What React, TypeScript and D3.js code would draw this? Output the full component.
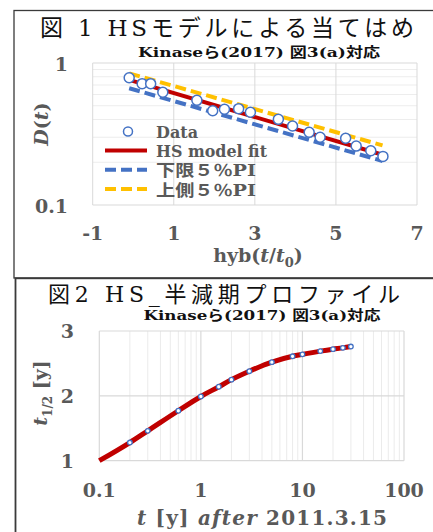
import React from 'react';
import * as d3 from 'd3';

// Fig.1 data: hyb(t/t0) vs D(t)
const hybX = [-0.1, 0.22, 0.43, 0.73, 1.57, 1.96, 2.25, 2.6, 2.89, 3.58, 3.93, 4.34, 4.61, 5.24, 5.5, 5.86, 6.16];
const dObs = [0.788, 0.715, 0.715, 0.622, 0.546, 0.461, 0.472, 0.477, 0.45, 0.401, 0.36, 0.325, 0.3, 0.295, 0.26, 0.241, 0.22];
const bandX = [-0.1, 6.15];
const fitD = [0.76, 0.226];
const lowerD = [0.664, 0.204];
const upperD = [0.846, 0.263];
const xTicksTop = [-1, 1, 3, 5, 7];
const yTicksTop = [0.1, 1];

// Fig.2 data: t vs half-life
const tObs = [0.2, 0.3, 0.6, 1, 1.5, 2, 3, 5, 8, 10, 15, 20, 25, 30];
const halfObs = [1.28, 1.46, 1.77, 1.99, 2.14, 2.25, 2.38, 2.52, 2.61, 2.64, 2.69, 2.72, 2.74, 2.76];
const fitT = [0.1, 0.2, 0.3, 0.6, 1, 1.5, 2, 3, 5, 8, 10, 15, 20, 25, 30];
const fitHalf = [1.0, 1.28, 1.46, 1.77, 1.99, 2.14, 2.25, 2.38, 2.52, 2.61, 2.64, 2.69, 2.72, 2.74, 2.76];
const xTicksBottom = [0.1, 1, 10, 100];
const yTicksBottom = [1, 2, 3];

const NUM = "'DejaVu Serif', serif";
const JP = "'DejaVu Serif', 'Noto Sans CJK JP', sans-serif";
const GRAY = '#595959';
const RED = '#C00000';
const BLUE = '#4472C4';
const GOLD = '#FFC000';

const App: React.FC = () => {
  // top chart scales
  const x1 = d3.scaleLinear().domain([-1, 7]).range([92.7, 417]);
  const y1 = d3.scaleLog().domain([0.1, 1]).range([205, 63]);
  const minorTop = d3.range(2, 10).map(d => d / 10);
  const line1 = d3.line<[number, number]>().x(d => x1(d[0])).y(d => y1(d[1]));

  // bottom chart scales
  const x2 = d3.scaleLog().domain([0.1, 100]).range([99.3, 404]);
  const y2 = d3.scaleLinear().domain([1, 3]).range([460.7, 331]);
  const minorBottom = [0.1, 1, 10].flatMap(dec => d3.range(2, 10).map(k => k * dec));
  const line2 = d3.line<[number, number]>()
    .x(d => x2(d[0]))
    .y(d => y2(d[1]))
    .curve(d3.curveMonotoneX);

  const legend = [
    { label: 'HS model fit', color: RED, dash: undefined, len: 111 },
    { label: '下限５％PI', color: BLUE, dash: '11,5', len: 100 },
    { label: '上側５％PI', color: GOLD, dash: '11,5', len: 100 },
  ];

  return (
    <div style={{ position: 'absolute', left: 0, top: 0 }}>
      <svg width={433} height={532} viewBox="0 0 433 532" style={{ display: 'block', background: '#fff' }}>
        {/* frames */}
        <rect x={14} y={10.5} width={440} height={267.5} fill="none" stroke="#3a3a3a" strokeWidth={1.3} />
        <rect x={15.5} y={278.3} width={440} height={300} fill="none" stroke="#3a3a3a" strokeWidth={1.8} />

        {/* ---------- Fig 1 ---------- */}
        <text x={227} y={36} textAnchor="middle" fontFamily={JP} fontSize={23} fill="#111"
          textLength={374} lengthAdjust="spacing">図 1 HSモデルによる当てはめ</text>
        <text x={259} y={57} textAnchor="middle" fontFamily={JP} fontSize={13.5} fontWeight="bold" fill="#111"
          textLength={242} lengthAdjust="spacingAndGlyphs">Kinaseら(2017) 図3(a)対応</text>

        {minorTop.map(v => (
          <line key={'mt' + v} x1={x1(-1)} x2={x1(7)} y1={y1(v)} y2={y1(v)} stroke="#EDEDED" strokeWidth={1} />
        ))}
        {xTicksTop.map(v => (
          <line key={'gx' + v} x1={x1(v)} x2={x1(v)} y1={y1(1)} y2={y1(0.1)} stroke="#D9D9D9" strokeWidth={1} />
        ))}
        {yTicksTop.map(v => (
          <line key={'gy' + v} x1={x1(-1)} x2={x1(7)} y1={y1(v)} y2={y1(v)} stroke="#D9D9D9" strokeWidth={1} />
        ))}

        <path d={line1(bandX.map((x, i) => [x, upperD[i]] as [number, number])) || ''} fill="none" stroke={GOLD} strokeWidth={4} strokeDasharray="11,5" />
        <path d={line1(bandX.map((x, i) => [x, lowerD[i]] as [number, number])) || ''} fill="none" stroke={BLUE} strokeWidth={4} strokeDasharray="11,5" />
        <path d={line1(bandX.map((x, i) => [x, fitD[i]] as [number, number])) || ''} fill="none" stroke={RED} strokeWidth={4} />
        {hybX.map((x, i) => (
          <circle key={'p' + i} cx={x1(x)} cy={y1(dObs[i])} r={5} fill="#fff" stroke={BLUE} strokeWidth={1.5} />
        ))}

        {/* legend */}
        <circle cx={128} cy={131.5} r={4.5} fill="#fff" stroke={BLUE} strokeWidth={1.5} />
        <text x={156} y={138} fontFamily={NUM} fontSize={16} fontWeight="bold" fill={GRAY}>Data</text>
        {legend.map((d, i) => (
          <g key={d.label}>
            <line x1={105} x2={147} y1={150.5 + i * 19.3} y2={150.5 + i * 19.3} stroke={d.color} strokeWidth={4} strokeDasharray={d.dash} />
            <text x={156} y={157 + i * 19.3} fontFamily={JP} fontSize={16} fontWeight="bold" fill={GRAY}
              textLength={d.len} lengthAdjust="spacingAndGlyphs">{d.label}</text>
          </g>
        ))}

        {yTicksTop.map(v => (
          <text key={'ty' + v} x={68} y={y1(v) + 8} textAnchor="end" fontFamily={NUM} fontSize={19} fontWeight="bold" fill={GRAY}>{v}</text>
        ))}
        {xTicksTop.map(v => (
          <text key={'tx' + v} x={x1(v)} y={240} textAnchor="middle" fontFamily={NUM} fontSize={19} fontWeight="bold" fill={GRAY}>{v}</text>
        ))}
        <text x={258} y={262} textAnchor="middle" fontFamily={NUM} fontSize={19} fontWeight="bold" fill={GRAY}>
          hyb(<tspan fontStyle="italic">t</tspan>/<tspan fontStyle="italic">t</tspan><tspan fontSize={13} dy={5}>0</tspan><tspan dy={-5}>)</tspan>
        </text>
        <text transform="translate(48,124) rotate(-90)" textAnchor="middle" fontFamily={NUM} fontSize={19} fontWeight="bold" fill={GRAY}>
          <tspan fontStyle="italic">D</tspan>(<tspan fontStyle="italic">t</tspan>)
        </text>

        {/* ---------- Fig 2 ---------- */}
        <text x={224} y={302} textAnchor="middle" fontFamily={JP} fontSize={22} fill="#111"
          textLength={352} lengthAdjust="spacing">図2 HS_半減期プロファイル</text>
        <text x={262} y={320} textAnchor="middle" fontFamily={JP} fontSize={13.5} fontWeight="bold" fill="#111"
          textLength={237} lengthAdjust="spacingAndGlyphs">Kinaseら(2017) 図3(a)対応</text>

        {minorBottom.map(v => (
          <line key={'mb' + v} x1={x2(v)} x2={x2(v)} y1={y2(3)} y2={y2(1)} stroke="#EBEBEB" strokeWidth={1} />
        ))}
        {xTicksBottom.map(v => (
          <line key={'bgx' + v} x1={x2(v)} x2={x2(v)} y1={y2(3)} y2={y2(1)} stroke="#D9D9D9" strokeWidth={1.2} />
        ))}
        {yTicksBottom.map(v => (
          <line key={'bgy' + v} x1={x2(0.1)} x2={x2(100)} y1={y2(v)} y2={y2(v)} stroke="#D9D9D9" strokeWidth={1.2} />
        ))}

        <path d={line2(fitT.map((t, i) => [t, fitHalf[i]] as [number, number])) || ''} fill="none" stroke={RED} strokeWidth={5} />
        {tObs.map((t, i) => (
          <circle key={'q' + i} cx={x2(t)} cy={y2(halfObs[i])} r={2.3} fill="#fff" stroke={BLUE} strokeWidth={1.3} />
        ))}

        {yTicksBottom.map(v => (
          <text key={'by' + v} x={74} y={y2(v) + 7} textAnchor="end" fontFamily={NUM} fontSize={19} fontWeight="bold" fill={GRAY}>{v}</text>
        ))}
        {xTicksBottom.map(v => (
          <text key={'bx' + v} x={x2(v)} y={497} textAnchor="middle" fontFamily={NUM} fontSize={19} fontWeight="bold" fill={GRAY}>{v}</text>
        ))}
        <text x={262} y={525} textAnchor="middle" fontFamily={NUM} fontSize={20} fontWeight="bold" fill={GRAY}
          textLength={250} lengthAdjust="spacing">
          <tspan fontStyle="italic">t</tspan> [y]  <tspan fontStyle="italic">after</tspan> 2011.3.15
        </text>
        <text transform="translate(47,393) rotate(-90)" textAnchor="middle" fontFamily={NUM} fontSize={19} fontWeight="bold" fill={GRAY}>
          <tspan fontStyle="italic">t</tspan><tspan fontSize={12} dy={5}>1/2</tspan><tspan dy={-5}> [y]</tspan>
        </text>
      </svg>
    </div>
  );
};

export default App;
